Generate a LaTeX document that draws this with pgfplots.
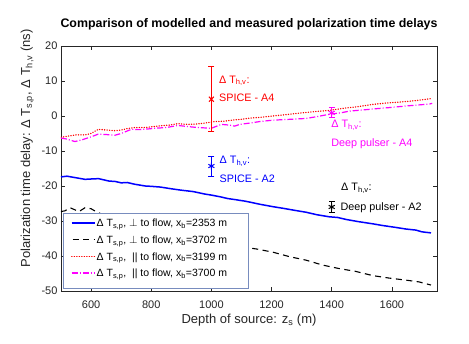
\documentclass[border=0pt]{standalone}
\usepackage{pgfplots}
\pgfplotsset{compat=1.18}
\usepackage{fontspec}
\setmainfont{Liberation Sans}
\definecolor{axgray}{gray}{0.15}
\definecolor{legedge}{RGB}{120,140,190}
\definecolor{mag}{RGB}{255,0,255}
\definecolor{myred}{RGB}{255,0,0}
\definecolor{myblue}{RGB}{0,0,255}

\begin{document}
\begin{tikzpicture}
\path[use as bounding box, fill=white] (0pt,0pt) rectangle (469pt,344pt);
\begin{axis}[
  at={(61pt,53pt)}, anchor=south west,
  scale only axis, width=376pt, height=245pt,
  xmin=500, xmax=1750, ymin=-50, ymax=20,
  xtick={600,800,...,1600}, ytick={-50,-40,...,20},
  tick align=inside, xtick pos=both, ytick pos=both,
  major tick length=4pt,
  /pgf/number format/assume math mode=true,
  /pgf/number format/1000 sep={},
  ticklabel style={font=\fontsize{11}{13}\selectfont, text=axgray},
  xticklabel style={yshift=-6pt},
  axis line style={axgray, line width=0.5pt},
  every tick/.style={axgray, line width=0.5pt},
  title={Comparison of modelled and measured polarization time delays},
  title style={at={(axis description cs:0.5,1)}, anchor=base, yshift=12.5pt, font=\bfseries\fontsize{12.4}{15}\selectfont, inner sep=0pt},
  xlabel={Depth of source: z\textsubscript{s} (m)},
  xlabel style={at={(axis description cs:0.5,0)}, anchor=base, yshift=-33pt, inner sep=0pt, font=\fontsize{13}{15}\selectfont, text=axgray},
  ylabel={Polarization time delay: Δ T\textsubscript{s,p}, Δ T\textsubscript{h,v} (ns)},
  ylabel style={at={(axis description cs:-0.0824,0.5816)}, anchor=base, inner sep=0pt, font=\fontsize{13}{15}\selectfont, text=axgray},
]
% blue solid: perp, xb=2353
\addplot[forget plot, color=myblue, line width=1.5pt] coordinates {
(500,-17.4) (520,-17.2) (540,-17.5) (560,-17.8) (580,-18.1) (600,-18.0) (625,-17.9) (645,-18.3)
(660,-18.6) (680,-18.7) (700,-19.1) (720,-19.0) (745,-19.5) (780,-20.0) (800,-20.1) (830,-20.3)
(867,-20.8) (900,-21.2) (940,-21.6) (978,-22.3) (1000,-22.6) (1030,-23.1) (1055,-23.6) (1080,-23.9)
(1094,-24.1) (1110,-24.3) (1133,-24.7) (1160,-25.2) (1204,-25.9) (1240,-26.4) (1280,-27.0) (1315,-27.5)
(1350,-28.2) (1392,-28.8) (1420,-29.0) (1450,-29.6) (1490,-30.2) (1536,-30.8) (1570,-31.3) (1610,-31.8)
(1647,-32.3) (1680,-32.6) (1700,-33.1) (1730,-33.4)};
% black dashed: perp, xb=3702
\addplot[forget plot, color=black, line width=1.1pt, dash pattern=on 6pt off 4.5pt] coordinates {
(500,-27.3) (513,-27.1) (530,-26.2) (546,-26.8) (560,-27.3) (580,-26.2) (600,-26.5) (620,-27.5)
(650,-28.5) (700,-29.5) (750,-30.5) (800,-31.5) (850,-32.5) (900,-33.3) (950,-34.4) (1000,-35.2)
(1050,-36.4) (1094,-37.3) (1150,-38.0) (1204,-38.9) (1260,-40.2) (1315,-41.2) (1370,-42.6) (1425,-43.6)
(1480,-44.4) (1536,-45.6) (1590,-46.3) (1647,-46.9) (1690,-47.4) (1730,-48.3)};
% red dotted: parallel, xb=3199
\addplot[forget plot, color=myred, line width=1.3pt, line cap=round, dash pattern=on 0.3pt off 2.2pt] coordinates {
(500,-6.1) (520,-5.8) (550,-5.4) (580,-5.4) (600,-5.0) (624,-3.8) (650,-4.0) (680,-4.2) (701,-4.0)
(720,-3.6) (745,-3.3) (780,-3.3) (800,-3.1) (830,-2.8) (860,-2.6) (888,-2.2) (920,-2.4) (950,-2.3)
(980,-2.0) (1011,-1.6) (1040,-1.5) (1077,-1.1) (1094,-1.0) (1130,-0.6) (1160,-0.4) (1203,0.0)
(1250,0.4) (1300,0.9) (1350,1.3) (1392,1.6) (1440,2.2) (1490,2.7) (1535,3.3) (1580,3.7) (1630,4.0)
(1680,4.4) (1734,5.0)};
% magenta dash-dot: parallel, xb=3700
\addplot[forget plot, color=mag, line width=1.2pt, dash pattern=on 6pt off 2pt on 1pt off 2pt] coordinates {
(500,-6.3) (520,-6.6) (546,-7.3) (570,-6.8) (602,-5.9) (623,-5.2) (650,-5.3) (679,-5.5) (700,-5.0)
(734,-3.8) (760,-3.9) (790,-3.7) (812,-3.5) (850,-3.3) (888,-2.7) (920,-3.0) (954,-3.3) (1000,-3.5)
(1033,-2.4) (1060,-2.6) (1077,-2.9) (1094,-2.4) (1130,-2.0) (1160,-1.6) (1203,-1.2) (1250,-1.0)
(1315,-0.7) (1350,-0.2) (1392,0.5) (1430,0.9) (1459,1.4) (1500,1.7) (1550,2.1) (1591,2.4)
(1640,2.8) (1680,3.1) (1724,3.4) (1734,3.6)};
% measured values: error bar from (value - err) to (value + err), caps as '-' marks at the ends
\addplot[forget plot, color=myred, line width=1pt, mark=-, mark size=3pt] coordinates {(1000,-4.4) (1000,14.0)};
\addplot[forget plot, color=myred, only marks, mark=x, mark size=3.5pt, line width=1pt] coordinates {(1000,4.8)};
\addplot[forget plot, color=myblue, line width=1pt, mark=-, mark size=3pt] coordinates {(1000,-17.15) (1000,-11.45)};
\addplot[forget plot, color=myblue, only marks, mark=asterisk, mark size=3.5pt, line width=1pt] coordinates {(1000,-14.3)};
\addplot[forget plot, color=mag, line width=1pt, mark=-, mark size=3pt] coordinates {(1400,-0.5) (1400,2.3)};
\addplot[forget plot, color=mag, only marks, mark=asterisk, mark size=3.5pt, line width=1pt] coordinates {(1400,0.9)};
\addplot[forget plot, color=black, line width=1pt, mark=-, mark size=3pt] coordinates {(1400,-27.7) (1400,-24.3)};
\addplot[forget plot, color=black, only marks, mark=asterisk, mark size=3.5pt, line width=1pt] coordinates {(1400,-26.0)};
% legend box and samples
\addplot[forget plot, draw=legedge, fill=white, line width=0.5pt] coordinates {(507.6,-49.23) (1122.7,-49.23) (1122.7,-27.8) (507.6,-27.8) (507.6,-49.23)};
\addplot[forget plot, color=myblue, line width=1.5pt] coordinates {(535.6,-30.54) (613,-30.54)};
\addplot[forget plot, color=black, line width=1.1pt, dash pattern=on 6pt off 4.5pt, dash phase=-1pt] coordinates {(535.6,-35.31) (613,-35.31)};
\addplot[forget plot, color=myred, line width=1.3pt, line cap=round, dash pattern=on 0.3pt off 2.2pt] coordinates {(535.6,-40.08) (613,-40.08)};
\addplot[forget plot, color=mag, line width=1.2pt, dash pattern=on 6pt off 2pt on 1pt off 2pt] coordinates {(535.6,-44.86) (613,-44.86)};
\node[anchor=base west, inner sep=0pt, font=\fontsize{10.5}{12}\selectfont] at (axis cs:618,-31.63) {Δ T\textsubscript{s,p}, $\perp$ to flow, x\textsubscript{b}=2353 m};
\node[anchor=base west, inner sep=0pt, font=\fontsize{10.5}{12}\selectfont] at (axis cs:618,-36.39) {Δ T\textsubscript{s,p}, $\perp$ to flow, x\textsubscript{b}=3702 m};
\node[anchor=base west, inner sep=0pt, font=\fontsize{10.5}{12}\selectfont] at (axis cs:618,-41.15) {Δ T\textsubscript{s,p}, \ || to flow, x\textsubscript{b}=3199 m};
\node[anchor=base west, inner sep=0pt, font=\fontsize{10.5}{12}\selectfont] at (axis cs:618,-45.91) {Δ T\textsubscript{s,p}, \ || to flow, x\textsubscript{b}=3700 m};
% annotations
\node[anchor=base west, inner sep=0pt, text=myred, font=\fontsize{10.8}{12}\selectfont] at (axis cs:1025,9.4) {Δ T\textsubscript{h,v}:};
\node[anchor=base west, inner sep=0pt, text=myred, font=\fontsize{10.8}{12}\selectfont] at (axis cs:1025,4.0) {SPICE - A4};
\node[anchor=base west, inner sep=0pt, text=myblue, font=\fontsize{10.8}{12}\selectfont] at (axis cs:1027,-13.7) {Δ T\textsubscript{h,v}:};
\node[anchor=base west, inner sep=0pt, text=myblue, font=\fontsize{10.8}{12}\selectfont] at (axis cs:1027,-19.1) {SPICE - A2};
\node[anchor=base west, inner sep=0pt, text=mag, font=\fontsize{10.8}{12}\selectfont] at (axis cs:1398,-3.4) {Δ T\textsubscript{h,v}:};
\node[anchor=base west, inner sep=0pt, text=mag, font=\fontsize{10.8}{12}\selectfont] at (axis cs:1398,-8.6) {Deep pulser - A4};
\node[anchor=base west, inner sep=0pt, text=black, font=\fontsize{10.8}{12}\selectfont] at (axis cs:1431,-21.4) {Δ T\textsubscript{h,v}:};
\node[anchor=base west, inner sep=0pt, text=black, font=\fontsize{10.8}{12}\selectfont] at (axis cs:1429,-27.1) {Deep pulser - A2};
\end{axis}
\end{tikzpicture}
\end{document}
